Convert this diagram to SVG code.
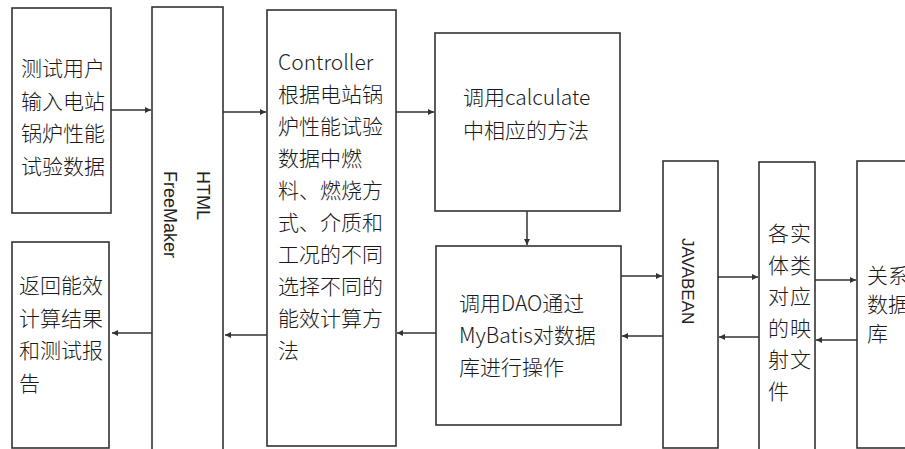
<svg xmlns="http://www.w3.org/2000/svg" width="905" height="449" viewBox="0 0 905 449">
<style>
.box{fill:#fff;stroke:#333;stroke-width:1.6}
.t{font-family:"Noto Sans CJK SC","Noto Sans",sans-serif;font-size:21px;font-weight:300;fill:#1a1a1a}
.r{font-family:"Liberation Sans",Arial,sans-serif;font-size:18px;fill:#222}
.c{stroke:#666;stroke-width:2;fill:none;marker-end:url(#ah)}
</style>
<defs>
<marker id="ah" markerUnits="userSpaceOnUse" markerWidth="7" markerHeight="7" refX="6" refY="3" orient="auto">
<path d="M0,0 L6,3 L0,6 z" fill="#333"/>
</marker>
</defs>
<rect width="905" height="449" fill="#fff"/>
<g id="connectors">
<line class="c" x1="111" y1="110" x2="151" y2="110"/>
<line class="c" x1="223" y1="112" x2="266" y2="112"/>
<line class="c" x1="396" y1="112" x2="434" y2="112"/>
<line class="c" x1="527" y1="211" x2="527" y2="245"/>
<line class="c" x1="436" y1="333" x2="397" y2="333"/>
<line class="c" x1="267" y1="335" x2="225" y2="335"/>
<line class="c" x1="152" y1="333" x2="112" y2="333"/>
<line class="c" x1="621" y1="276" x2="662" y2="276"/>
<line class="c" x1="663" y1="336" x2="622" y2="336"/>
<line class="c" x1="718" y1="277" x2="758" y2="277"/>
<line class="c" x1="759" y1="337" x2="719" y2="337"/>
<line class="c" x1="815" y1="280" x2="856" y2="280"/>
<line class="c" x1="857" y1="340" x2="816" y2="340"/>
</g>
<g id="input">
<rect class="box" x="12" y="8" width="99" height="205"/>
<text class="t"><tspan x="21" y="76">测试用户</tspan><tspan x="21" y="108.5">输入电站</tspan><tspan x="21" y="141">锅炉性能</tspan><tspan x="21" y="173.5">试验数据</tspan></text>
</g>
<g id="result">
<rect class="box" x="12" y="242" width="97" height="206"/>
<text class="t"><tspan x="19" y="293">返回能效</tspan><tspan x="19" y="326">计算结果</tspan><tspan x="19" y="358">和测试报</tspan><tspan x="19" y="391">告</tspan></text>
</g>
<g id="html">
<rect class="box" x="152" y="7" width="71" height="445"/>
<text class="r" transform="translate(197,171) rotate(90)"><tspan x="0" y="0">HTML</tspan><tspan x="0" y="33">FreeMaker</tspan></text>
</g>
<g id="controller">
<rect class="box" x="267" y="10" width="129" height="436"/>
<text class="t"><tspan x="278" y="70">Controller</tspan><tspan x="278" y="102">根据电站锅</tspan><tspan x="278" y="134">炉性能试验</tspan><tspan x="278" y="166">数据中燃</tspan><tspan x="278" y="198">料、燃烧方</tspan><tspan x="278" y="230">式、介质和</tspan><tspan x="278" y="262">工况的不同</tspan><tspan x="278" y="294">选择不同的</tspan><tspan x="278" y="326">能效计算方</tspan><tspan x="278" y="358">法</tspan></text>
</g>
<g id="calculate">
<rect class="box" x="435" y="33" width="185" height="178"/>
<text class="t"><tspan x="463" y="105">调用calculate</tspan><tspan x="463" y="138">中相应的方法</tspan></text>
</g>
<g id="dao">
<rect class="box" x="436" y="246" width="185" height="179"/>
<text class="t"><tspan x="459" y="311">调用DAO通过</tspan><tspan x="459" y="343">MyBatis对数据</tspan><tspan x="459" y="375">库进行操作</tspan></text>
</g>
<g id="javabean">
<rect class="box" x="663" y="161" width="55" height="287"/>
<text class="r" style="font-size:17px" transform="translate(682,238) rotate(90)">JAVABEAN</text>
</g>
<g id="mapping">
<rect class="box" x="759" y="162" width="56" height="300"/>
<text class="t" style="letter-spacing:1px"><tspan x="768" y="241">各实</tspan><tspan x="768" y="272.5">体类</tspan><tspan x="768" y="304">对应</tspan><tspan x="768" y="335.5">的映</tspan><tspan x="768" y="367">射文</tspan><tspan x="768" y="398.5">件</tspan></text>
</g>
<g id="database">
<rect class="box" x="857" y="161" width="60" height="287"/>
<text class="t"><tspan x="867" y="283">关系</tspan><tspan x="867" y="312">数据</tspan><tspan x="867" y="341">库</tspan></text>
</g>
</svg>
